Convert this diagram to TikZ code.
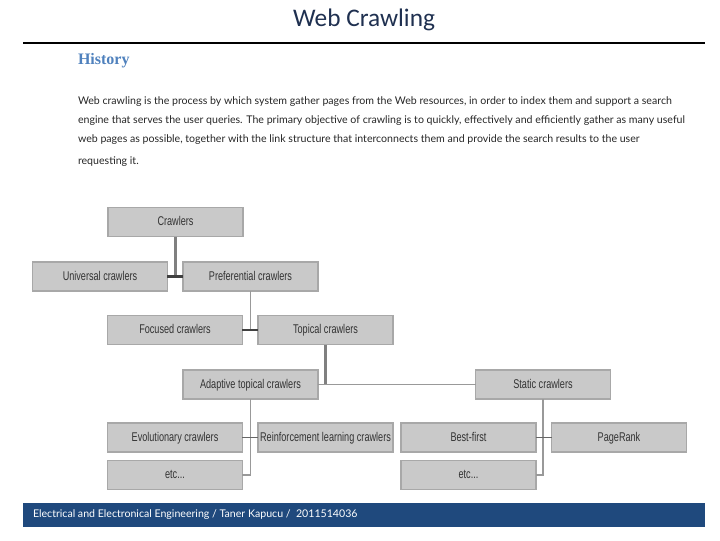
\documentclass[tikz,border=0pt]{standalone}
\usepackage{fontspec}
\setmainfont{Lato}
\newfontfamily\titlefont{Carlito}
\newfontfamily\headfont{Liberation Serif}
\newfontfamily\boxfont[FakeStretch=0.72]{Liberation Sans}
\usetikzlibrary{calc}
\definecolor{SlideInk}{HTML}{1F3050}
\definecolor{SlideHead}{RGB}{79,129,189}
\definecolor{SlideBar}{RGB}{31,73,125}
\definecolor{BoxFill}{gray}{0.79}
\definecolor{BoxEdge}{gray}{0.66}
\definecolor{BoxText}{gray}{0.2}
\definecolor{LinkHeavy}{gray}{0.5}
\definecolor{LinkLight}{gray}{0.6}
\definecolor{LinkDark}{gray}{0.25}
\tikzset{
    tree/diagram/.style={
        x=0.75pt, y=-0.75pt,
        line cap=butt,
        every node/.style={inner sep=0pt, outer sep=0pt}
    },
    tree/box/.style={
        rectangle, fill=BoxFill, draw=BoxEdge, line width=1.1pt,
        minimum width=101pt, minimum height=22pt,
        text height=6.2pt, text depth=0.6pt,
        font=\boxfont\fontsize{9.5}{11}\selectfont, text=BoxText
    },
    tree/heavy/.style={draw=LinkHeavy, line width=1.8pt},
    tree/light/.style={draw=LinkLight, line width=0.8pt},
    tree/dark/.style={draw=LinkDark, line width=1.6pt},
    tree/thin/.style={draw=LinkDark!80, line width=0.9pt},
    slide/body/.style={anchor=base west, font=\fontsize{7.95}{9}\selectfont, text=black!85}
}
\begin{document}
\begin{tikzpicture}[tree/diagram]
    \useasboundingbox (0,0) rectangle (720,540);
    % heading
    \node[font=\titlefont\fontsize{19}{20}\selectfont, text=SlideInk] (title) at (364,20) {Web Crawling};
    \draw[line width=1.1pt] (23,43) -- (705,43);
    \node[anchor=base west, font=\headfont\bfseries\fontsize{12}{13}\selectfont, text=SlideHead] (history) at (78,64) {History};
    \node[slide/body] (line1) at (78,104) {Web crawling is the process by which system gather pages from the Web resources, in order to index them and support a search};
    \node[slide/body] (line2) at (78,123) {engine that serves the user queries. The primary objective of crawling is to quickly, effectively and efficiently gather as many useful};
    \node[slide/body] (line3) at (78,142) {web pages as possible, together with the link structure that interconnects them and provide the search results to the user};
    \node[slide/body] (line4) at (78,164) {requesting it.};
    % tree of crawlers
    \node[tree/box] (crawlers) at (175.5,222) {Crawlers};
    \node[tree/box] (universal) at (100,276.5) {Universal crawlers};
    \node[tree/box] (preferential) at (250.5,276.5) {Preferential crawlers};
    \node[tree/box] (focused) at (175,330) {Focused crawlers};
    \node[tree/box] (topical) at (325.5,330) {Topical crawlers};
    \node[tree/box] (adaptive) at (250.5,384.5) {Adaptive topical crawlers};
    \node[tree/box] (static) at (543,384.5) {Static crawlers};
    \node[tree/box] (evolutionary) at (175,437.5) {Evolutionary crawlers};
    \node[tree/box] (reinforcement) at (325.5,437.5) {Reinforcement learning crawlers};
    \node[tree/box] (bestfirst) at (468.5,437.5) {Best-first};
    \node[tree/box] (pagerank) at (619,437.5) {PageRank};
    \node[tree/box] (etcA) at (175,475) {etc...};
    \node[tree/box] (etcB) at (468.5,475) {etc...};
    \draw[tree/heavy] (crawlers.south) -- (crawlers.south |- universal.east);
    \draw[tree/dark] (universal.east) -- (preferential.west);
    \draw[tree/light] (preferential.south) -- (preferential.south |- focused.east);
    \draw[tree/dark] (focused.east) -- (topical.west);
    \draw[tree/heavy] (topical.south) -- (topical.south |- adaptive.east);
    \draw[tree/light] (adaptive.east) -- (static.west);
    \draw[tree/light] (adaptive.south) |- (etcA.east);
    \draw[tree/thin] (evolutionary.east) -- (reinforcement.west);
    \draw[tree/light] (static.south) |- (etcB.east);
    \draw[tree/thin] (bestfirst.east) -- (pagerank.west);
    % footer
    \fill[SlideBar] (23,503) rectangle (705,527);
    \node[anchor=base west, font=\fontsize{7.95}{9}\selectfont, text=white] (footer) at (33,517) {Electrical and Electronical Engineering / Taner Kapucu / \ 2011514036};
\end{tikzpicture}
\end{document}
